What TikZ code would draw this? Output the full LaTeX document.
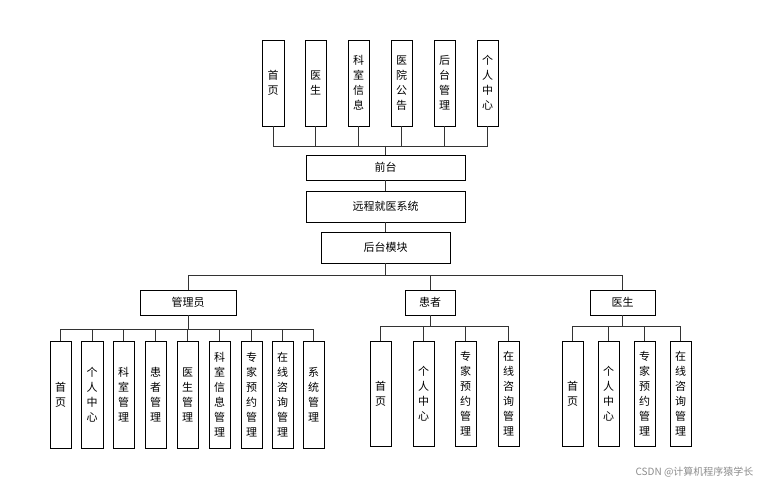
\documentclass[tikz,border=0pt]{standalone}
\usepackage{fontspec}
\setmainfont{Noto Sans CJK SC}
\begin{document}
\begin{tikzpicture}[x=1pt,y=-1pt,
  box/.style={draw,thick,inner sep=0pt,font=\fontsize{11}{15}\selectfont,align=center},
  ln/.style={thick,draw=black!80}]
\useasboundingbox (0,0) rectangle (762,486);
\newcommand\vb[5]{\node[box,minimum width=#3-#2,minimum height=#5-#4] (#1) at ({(#2+#3)/2},{(#4+#5)/2})}
% top
\vb{t1}{262}{284}{40}{126}{首\\页};
\vb{t2}{305}{326}{40}{126}{医\\生};
\vb{t3}{348}{369}{40}{126}{科\\室\\信\\息};
\vb{t4}{391}{412}{40}{126}{医\\院\\公\\告};
\vb{t5}{434}{455}{40}{126}{后\\台\\管\\理};
\vb{t6}{477}{498}{40}{126}{个\\人\\中\\心};
\vb{qt}{306}{465}{155}{180}{前台};
\vb{sys}{306}{465}{191}{222}{远程就医系统};
\vb{ht}{321}{450}{232}{263}{后台模块};
\vb{gly}{140}{236}{290}{315}{管理员};
\vb{hz}{405}{455}{290}{315}{患者};
\vb{ys}{590}{655}{290}{315}{医生};
% admin children
\vb{a1}{50}{71}{341}{448}{首\\页};
\vb{a2}{81}{103}{341}{448}{个\\人\\中\\心};
\vb{a3}{113}{134}{341}{448}{科\\室\\管\\理};
\vb{a4}{145}{166}{341}{448}{患\\者\\管\\理};
\vb{a5}{177}{198}{341}{448}{医\\生\\管\\理};
\vb{a6}{209}{230}{341}{448}{科\\室\\信\\息\\管\\理};
\vb{a7}{241}{262}{341}{448}{专\\家\\预\\约\\管\\理};
\vb{a8}{272}{293}{341}{448}{在\\线\\咨\\询\\管\\理};
\vb{a9}{303}{324}{341}{448}{系\\统\\管\\理};
% patient children
\vb{p1}{370}{391}{341}{446}{首\\页};
\vb{p2}{413}{434}{341}{446}{个\\人\\中\\心};
\vb{p3}{455}{476}{341}{446}{专\\家\\预\\约\\管\\理};
\vb{p4}{498}{519}{341}{446}{在\\线\\咨\\询\\管\\理};
% doctor children
\vb{d1}{562}{583}{341}{446}{首\\页};
\vb{d2}{598}{619}{341}{446}{个\\人\\中\\心};
\vb{d3}{634}{655}{341}{446}{专\\家\\预\\约\\管\\理};
\vb{d4}{670}{691}{341}{446}{在\\线\\咨\\询\\管\\理};
% connectors
\foreach \n in {t1,t2,t3,t4,t5,t6}{\draw[ln] (\n.south) -- (\n.south |- 0,146);}
\draw[ln] (t1.south |- 0,146) -- (t6.south |- 0,146);
\draw[ln] (qt.north |- 0,146) -- (qt.north);
\draw[ln] (qt) -- (sys); \draw[ln] (sys) -- (ht);
\draw[ln] (ht.south) -- (ht.south |- 0,275);
\draw[ln] (gly.north |- 0,275) -- (ys.north |- 0,275);
\foreach \n in {gly,hz,ys}{\draw[ln] (\n.north |- 0,275) -- (\n.north);}
\draw[ln] (gly.south) -- (gly.south |- 0,329);
\draw[ln] (a1.north |- 0,329) -- (a9.north |- 0,329);
\foreach \n in {a1,a2,a3,a4,a5,a6,a7,a8,a9}{\draw[ln] (\n.north |- 0,329) -- (\n.north);}
\draw[ln] (hz.south) -- (hz.south |- 0,326);
\draw[ln] (p1.north |- 0,326) -- (p4.north |- 0,326);
\foreach \n in {p1,p2,p3,p4}{\draw[ln] (\n.north |- 0,326) -- (\n.north);}
\draw[ln] (ys.south) -- (ys.south |- 0,326);
\draw[ln] (d1.north |- 0,326) -- (d4.north |- 0,326);
\foreach \n in {d1,d2,d3,d4}{\draw[ln] (\n.north |- 0,326) -- (\n.north);}
\node[anchor=east,text=black!45,font=\fontsize{10}{12}\selectfont] (wm) at (757,472) {CSDN @计算机程序猿学长};
\end{tikzpicture}
\end{document}
